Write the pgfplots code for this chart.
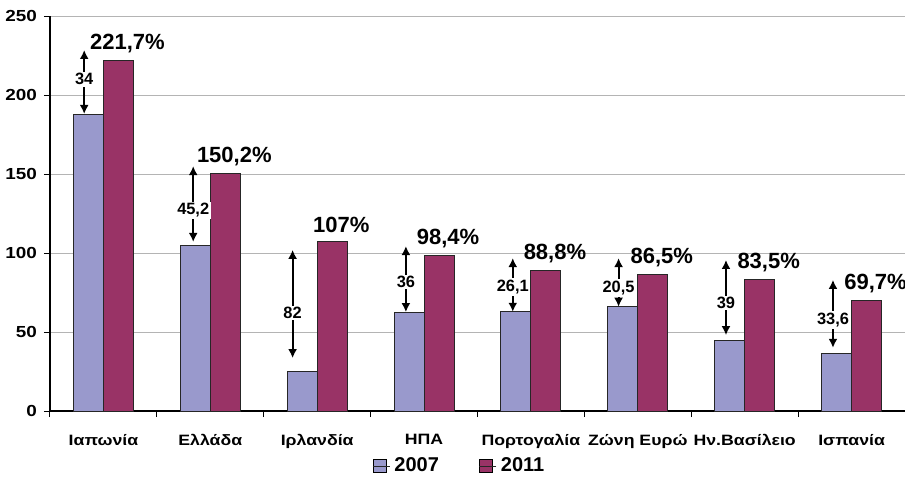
\documentclass[border=0pt]{standalone}
\usepackage{fontspec}
\setmainfont{Liberation Sans}
\newfontfamily\widefont[FakeStretch=1.18]{Liberation Sans}
\usepackage{pgfplots}
\pgfplotsset{compat=1.18}
\usetikzlibrary{arrows.meta,calc}
\definecolor{c07}{RGB}{153,153,204}
\definecolor{c11}{RGB}{153,51,102}
\definecolor{gridgray}{RGB}{180,180,180}
\begin{document}
\begin{tikzpicture}
\begin{axis}[
  name=ax, scale only axis,
  width=427.5pt, height=197.5pt,
  ybar=0pt, bar width=15pt,
  enlargelimits=false,
  xmin=-0.5, xmax=7.5, ymin=0, ymax=250,
  xtick={-0.5,0.5,...,7.5},
  x tick label as interval,
  xticklabels={Ιαπωνία,Ελλάδα,Ιρλανδία,ΗΠΑ,Πορτογαλία,Ζώνη Ευρώ,Ην.Βασίλειο,Ισπανία},
  ytick={0,50,...,250},
  axis x line=bottom, axis y line=left,
  axis line style={-, black, line width=0.6pt},
  tick align=outside, major tick length=3pt,
  tick style={black, line width=0.5pt},
  ymajorgrids, major grid style={gridgray, line width=0.5pt},
  /pgf/number format/assume math mode=true,
  yticklabel style={font=\widefont\bfseries\fontsize{8}{8}\selectfont},
  xticklabel style={font=\widefont\bfseries\fontsize{7.5}{7.5}\selectfont, yshift=-5pt},
  legend columns=2,
  legend style={draw=none, at={(0.48,0)}, anchor=center, yshift=-27.5pt,
    font=\bfseries\fontsize{10}{10}\selectfont,
    /tikz/every even column/.append style={column sep=18pt}},
  legend image code/.code={\draw[#1, draw=black, line width=0.3pt] (0pt,-3.2pt) rectangle (6.5pt,3.2pt);
    \path (0pt,0pt) -- (8.5pt,0pt);},
]
\addplot[fill=c07, draw=black!85, line width=0.5pt] coordinates {
  (0,187.7) (1,105) (2,25) (3,62.4) (4,62.7) (5,66) (6,44.5) (7,36.1)};
\addplot[fill=c11, draw=black!85, line width=0.5pt,
  nodes near coords={\pgfmathprintnumber[use comma]{\pgfplotspointmeta}\%},
  nodes near coords style={font=\bfseries\fontsize{11}{11}\selectfont, text=black,
    anchor=center, xshift=4.5pt, yshift=8.5pt}] coordinates {
  (0,221.7) (1,150.2) (2,107) (3,98.4) (4,88.8) (5,86.5) (6,83.5) (7,69.7)};
\legend{2007,2011}
\tikzset{arr/.style={{Latex[length=4.5pt,width=4.5pt]}-{Latex[length=4.5pt,width=4.5pt]}, line width=1pt, black},
  lab/.style={fill=white, inner sep=0.8pt, font=\bfseries\fontsize{8.2}{8.2}\selectfont}}
\draw[arr] (axis cs:-0.18,188) -- (axis cs:-0.18,228.5);
\node[lab] at (axis cs:-0.18,210) {34};
\draw[arr] (axis cs:0.84,107) -- (axis cs:0.84,155);
\node[lab] at (axis cs:0.84,127) {45,2};
\draw[arr] (axis cs:1.77,33.5) -- (axis cs:1.77,102);
\node[lab] at (axis cs:1.77,62) {82};
\draw[arr] (axis cs:2.83,62.6) -- (axis cs:2.83,104.4);
\node[lab] at (axis cs:2.83,81.6) {36};
\draw[arr] (axis cs:3.83,62.8) -- (axis cs:3.83,96.8);
\node[lab] at (axis cs:3.83,78.5) {26,1};
\draw[arr] (axis cs:4.82,66) -- (axis cs:4.82,96.8);
\node[lab] at (axis cs:4.82,77.8) {20,5};
\draw[arr] (axis cs:5.825,48) -- (axis cs:5.825,95.6);
\node[lab] at (axis cs:5.825,68.4) {39};
\draw[arr] (axis cs:6.826,40) -- (axis cs:6.826,83);
\node[lab] at (axis cs:6.826,57.6) {33,6};
\end{axis}
\pgfresetboundingbox
\path[use as bounding box] ($(ax.south west)+(-25pt,-33pt)$) rectangle ($(ax.north east)+(0pt,8pt)$);
\end{tikzpicture}
\end{document}
